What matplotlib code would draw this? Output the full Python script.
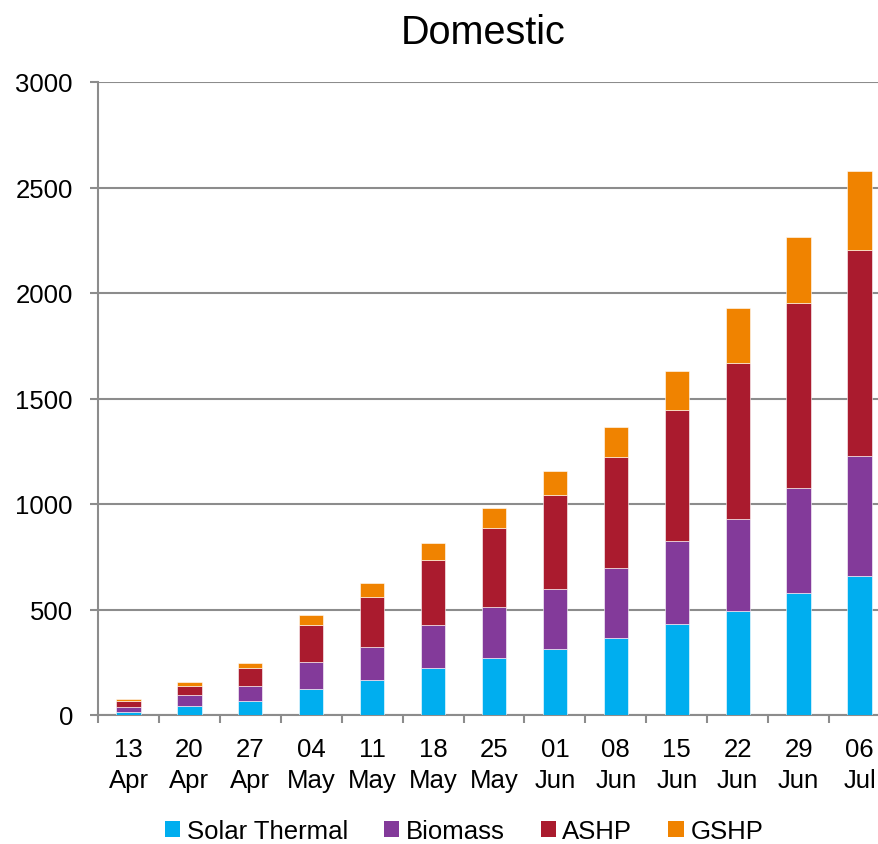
import numpy as np
import matplotlib
matplotlib.use("Agg")
import matplotlib.pyplot as plt
from matplotlib.patches import Patch

plt.rcParams["font.family"] = ["Liberation Sans", "DejaVu Sans"]

weeks = ["13\nApr", "20\nApr", "27\nApr", "04\nMay", "11\nMay", "18\nMay", "25\nMay",
         "01\nJun", "08\nJun", "15\nJun", "22\nJun", "29\nJun", "06\nJul"]
solar_thermal = [15, 44, 65, 125, 166, 225, 269, 311, 363, 432, 495, 578, 660]
biomass = [25, 51, 74, 125, 155, 203, 244, 287, 334, 391, 432, 496, 566]
ashp = [28, 44, 85, 178, 240, 305, 375, 444, 526, 621, 742, 877, 980]
gshp = [7, 16, 22, 47, 63, 80, 95, 115, 140, 188, 262, 313, 372]

SERIES = [("Solar Thermal", solar_thermal, "#00AEEF"),
          ("Biomass", biomass, "#833A9A"),
          ("ASHP", ashp, "#AA1B2E"),
          ("GSHP", gshp, "#F08300")]
GRID = "#8C8C8C"

fig = plt.figure(figsize=(8.79, 8.45), dpi=100)
ax = fig.add_axes([98 / 879, 129 / 845, 792 / 879, 633 / 845])

x = np.arange(len(weeks))
bottom = np.zeros(len(weeks))
for name, vals, col in SERIES:
    ax.bar(x, vals, width=0.4, bottom=bottom, color=col,
           edgecolor="white", linewidth=0.4, zorder=3)
    bottom += np.array(vals)

ax.set_xlim(-0.5, len(weeks) - 0.5)
ax.set_ylim(0, 3000)
ax.set_yticks(np.arange(0, 3001, 500))
ax.yaxis.grid(True, color=GRID, lw=1.5, zorder=0)
ax.set_axisbelow(True)

for s in ["top", "right"]:
    ax.spines[s].set_visible(False)
for s in ["left", "bottom"]:
    ax.spines[s].set_color(GRID)
    ax.spines[s].set_linewidth(1.5)

ax.set_xticks(x)
ax.set_xticklabels(weeks, fontsize=18.5, linespacing=1.35)
ax.set_xticks(np.arange(len(weeks)) - 0.5, minor=True)
ax.tick_params(axis="x", which="major", length=0, pad=16)
ax.tick_params(axis="x", which="minor", length=6, width=1.5, color=GRID, direction="out")
ax.tick_params(axis="y", length=6, width=1.5, color=GRID, labelsize=18.5, pad=12)

fig.text(483 / 879, 1 - 33 / 845, "Domestic", fontsize=28.5, ha="center", va="center")

handles = [Patch(facecolor=col, edgecolor="none", label=name) for name, _, col in SERIES]
fig.legend(handles=handles, loc="center", bbox_to_anchor=(464 / 879, 1 - 832 / 845),
           ncol=4, frameon=False, fontsize=18.5, handlelength=0.6, handleheight=0.6,
           handletextpad=0.25, columnspacing=1.4)

fig.savefig("out.png", dpi=100)
